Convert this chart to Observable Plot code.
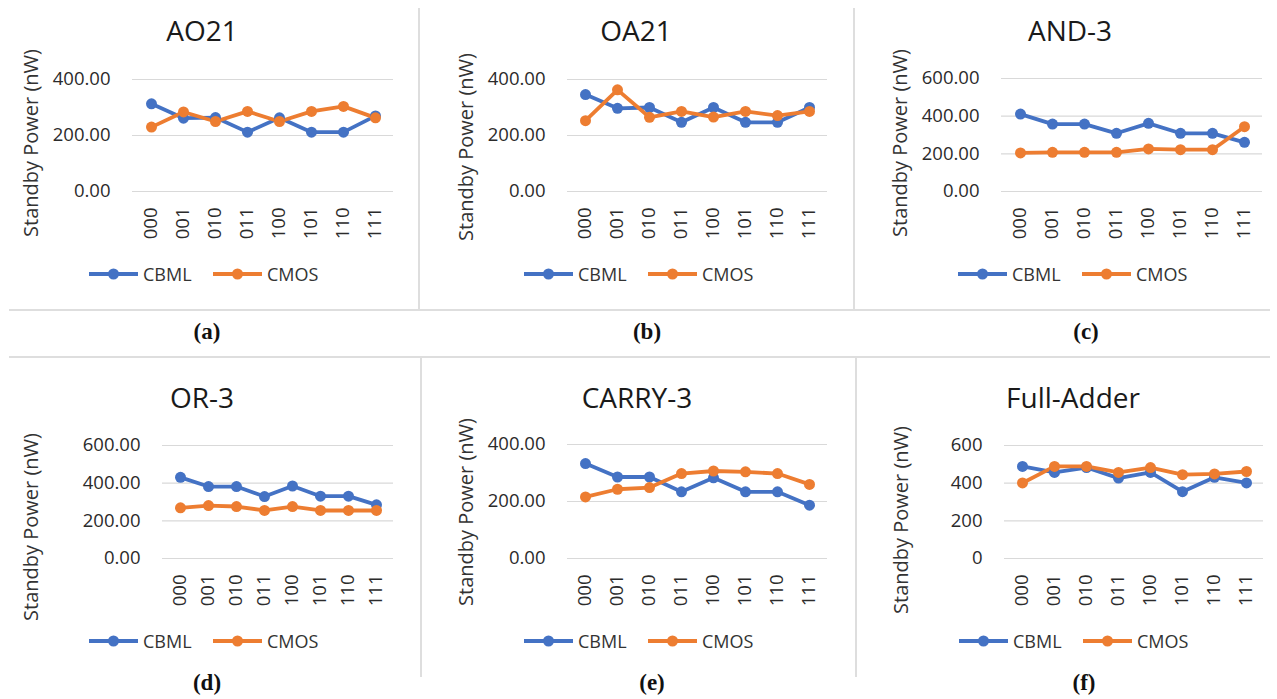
<!DOCTYPE html>
<html>
<head>
<meta charset="utf-8">
<script src="https://cdn.jsdelivr.net/npm/d3@7"></script>
<script src="https://cdn.jsdelivr.net/npm/@observablehq/plot@0.6"></script>
<style>
  html, body { margin: 0; padding: 0; background: #fff; }
  #root { position: relative; width: 1277px; height: 699px; overflow: hidden; background: #fff; font-family: "Open Sans", sans-serif; }
  .abs { position: absolute; }
  .title { font-size: 28px; color: #1a1a1a; white-space: nowrap; transform: translate(-50%, -50%); }
  .ylab { font-size: 20px; color: #333; white-space: nowrap; transform: translate(-50%, -50%) rotate(-90deg); }
  .cap { font-family: "Liberation Serif", "DejaVu Serif", serif; font-weight: bold; font-size: 23px; color: #111; transform: translate(-50%, -50%); white-space: nowrap; }
  .leg { font-size: 18px; color: #333; white-space: nowrap; display: flex; align-items: center; transform: translateY(-50%); }
  .hline { background: #dedede; height: 2px; }
  .vline { background: #dedede; width: 2px; }
</style>
</head>
<body>
<div id="root"></div>
<script>
// ---- data ----
const inputs = ["000", "001", "010", "011", "100", "101", "110", "111"];
const seriesNames = ["CBML", "CMOS"];
const gates = ["AO21", "OA21", "AND-3", "OR-3", "CARRY-3", "Full-Adder"];
const captions = ["(a)", "(b)", "(c)", "(d)", "(e)", "(f)"];

const cbmlAO21 = [313, 262, 264, 212, 263, 212, 212, 270];
const cmosAO21 = [230, 284, 250, 286, 250, 286, 304, 263];

const cbmlOA21 = [346, 297, 300, 247, 300, 247, 247, 300];
const cmosOA21 = [253, 363, 265, 286, 266, 286, 271, 286];

const cbmlAND3 = [411, 358, 358, 309, 362, 309, 309, 261];
const cmosAND3 = [205, 208, 208, 208, 226, 222, 222, 344];

const cbmlOR3 = [431, 382, 382, 329, 385, 331, 331, 285];
const cmosOR3 = [269, 281, 276, 255, 276, 255, 255, 255];

const cbmlCARRY3 = [333, 286, 286, 234, 283, 234, 234, 187];
const cmosCARRY3 = [216, 243, 249, 298, 307, 304, 298, 260];

const cbmlFA = [489, 457, 483, 427, 457, 355, 431, 401];
const cmosFA = [401, 489, 489, 457, 483, 445, 449, 462];

const yMaxes = [400, 400, 600, 600, 400, 600];
const yTicks400 = [0, 200, 400];
const yTicks600 = [0, 200, 400, 600];

const cbmlAll = [cbmlAO21, cbmlOA21, cbmlAND3, cbmlOR3, cbmlCARRY3, cbmlFA];
const cmosAll = [cmosAO21, cmosOA21, cmosAND3, cmosOR3, cmosCARRY3, cmosFA];

const colors = ["#4472C4", "#ED7D31"];

// ---- layout (pixel geometry of each panel) ----
const layout = [
  {x0: 132, x1: 393, yt: 79,  y0: 191, title: [202, 30],  ylab: [30, 143],  leg: [89, 274],  cap: [207, 332], fmt: ".2f"},
  {x0: 567, x1: 827, yt: 79,  y0: 191, title: [636, 30],  ylab: [465, 147], leg: [524, 274], cap: [647, 332], fmt: ".2f"},
  {x0: 1001, x1: 1262, yt: 78, y0: 191, title: [1070, 30], ylab: [899, 143], leg: [958, 274], cap: [1086, 332], fmt: ".2f"},
  {x0: 162, x1: 393, yt: 445, y0: 558, title: [202, 397], ylab: [30, 527],  leg: [89, 641],  cap: [207, 683], fmt: ".2f"},
  {x0: 567, x1: 827, yt: 444, y0: 558, title: [637, 397], ylab: [465, 512], leg: [524, 641], cap: [652, 683], fmt: ".2f"},
  {x0: 1004, x1: 1263, yt: 445, y0: 558, title: [1073, 397], ylab: [900, 520], leg: [959, 641], cap: [1084, 683], fmt: "d"}
];

const root = document.getElementById("root");

function addDiv(cls, left, top, text, extra) {
  const d = document.createElement("div");
  d.className = "abs " + cls;
  d.style.left = left + "px";
  d.style.top = top + "px";
  if (text != null) d.textContent = text;
  if (extra) Object.assign(d.style, extra);
  root.appendChild(d);
  return d;
}

// separator lines
addDiv("hline", 9, 309, null, {width: "1261px"});
addDiv("hline", 9, 356, null, {width: "1261px"});
addDiv("vline", 418, 8, null, {height: "302px"});
addDiv("vline", 853, 8, null, {height: "302px"});
addDiv("vline", 420, 357, null, {height: "320px"});
addDiv("vline", 855, 357, null, {height: "320px"});

const ML = 100, MR = 12, MT = 20, MB = 70;

gates.forEach((g, i) => {
  const L = layout[i];
  const data = [];
  inputs.forEach((inp, k) => {
    data.push({input: inp, series: "CBML", value: cbmlAll[i][k]});
    data.push({input: inp, series: "CMOS", value: cmosAll[i][k]});
  });
  const ticks = yMaxes[i] === 400 ? yTicks400 : yTicks600;
  const fmt = d3.format(L.fmt);
  const chart = Plot.plot({
    width: (L.x1 - L.x0) + ML + MR,
    height: (L.y0 - L.yt) + MT + MB,
    marginLeft: ML, marginRight: MR, marginTop: MT, marginBottom: MB,
    style: {fontFamily: "Open Sans, sans-serif", fontSize: "18px", color: "#333", background: "transparent", overflow: "visible"},
    x: {type: "point", domain: inputs, padding: 0.5},
    y: {domain: [0, yMaxes[i]]},
    color: {domain: seriesNames, range: colors},
    marks: [
      Plot.gridY(ticks, {stroke: "#d9d9d9", strokeOpacity: 1, strokeWidth: 1.2}),
      Plot.axisY(ticks, {tickSize: 0, tickPadding: 22, tickFormat: fmt, label: null, fontSize: 18.5, fill: "#2b2b2b"}),
      Plot.axisX({tickSize: 0, tickPadding: 16, tickRotate: -90, label: null, fontSize: 18.5, fill: "#2b2b2b"}),
      Plot.line(data, {x: "input", y: "value", z: "series", stroke: "series", strokeWidth: 3.8}),
      Plot.dot(data, {x: "input", y: "value", fill: "series", r: 5.5})
    ]
  });
  const holder = addDiv("", L.x0 - ML, L.yt - MT);
  holder.appendChild(chart);

  addDiv("title", L.title[0], L.title[1], g);
  addDiv("ylab", L.ylab[0], L.ylab[1], "Standby Power (nW)");
  addDiv("cap", L.cap[0], L.cap[1], captions[i]);

  // legend
  const leg = addDiv("leg", L.leg[0], L.leg[1]);
  seriesNames.forEach((s, j) => {
    const item = document.createElement("div");
    item.style.display = "flex";
    item.style.alignItems = "center";
    item.style.width = j === 0 ? "124px" : "auto";
    item.innerHTML = `<svg width="49" height="14" style="display:block"><line x1="0" y1="7" x2="49" y2="7" stroke="${colors[j]}" stroke-width="3.8"/><circle cx="24.5" cy="7" r="5.5" fill="${colors[j]}"/></svg><span style="margin-left:5px">${s}</span>`;
    leg.appendChild(item);
  });
});
</script>
</body>
</html>
